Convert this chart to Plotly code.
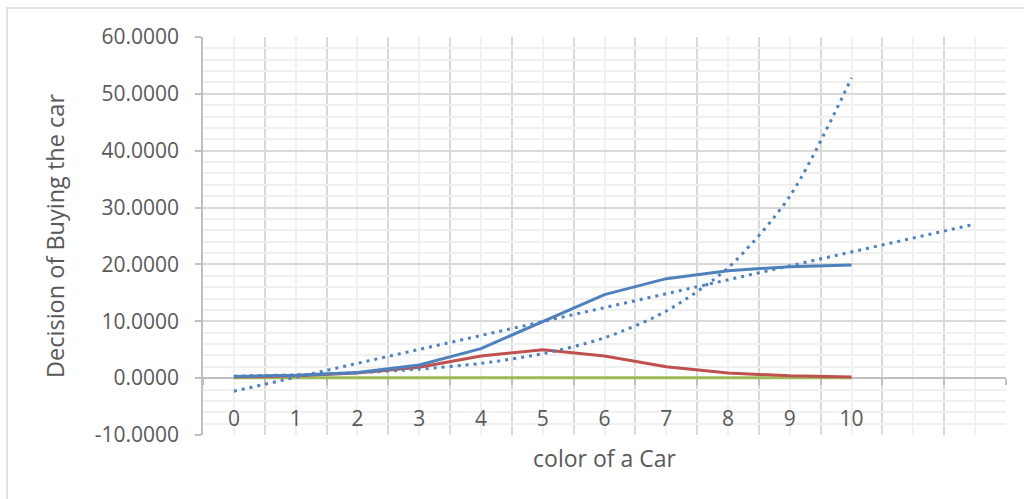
import plotly.graph_objects as go

# ---- data ----
x_vals = [0, 1, 2, 3, 4, 5, 6, 7, 8, 9, 10]
blue_vals = [0.3, 0.5, 1.0, 2.3, 5.2, 10.0, 14.7, 17.5, 18.9, 19.6, 19.9]
red_vals = [0.2, 0.4, 0.9, 1.9, 3.9, 5.0, 3.9, 2.0, 0.9, 0.4, 0.2]
green_vals = [0.05, 0.05, 0.05, 0.05, 0.05, 0.05, 0.05, 0.05, 0.05, 0.05, 0.05]
# trendlines
lin_trend_x = [0, 12]
lin_trend_y = [-2.3, 27.1]
exp_trend_x = [0, 1, 2, 3, 4, 5, 6, 7, 8, 9, 10]
exp_trend_y = [0.35, 0.58, 0.96, 1.58, 2.6, 4.3, 7.1, 11.8, 19.4, 32.0, 52.8]
x_tick_labels = ["0", "1", "2", "3", "4", "5", "6", "7", "8", "9", "10", "", ""]
y_tick_vals = [-10, 0, 10, 20, 30, 40, 50, 60]
y_tick_labels = ["-10.0000", "0.0000", "10.0000", "20.0000", "30.0000", "40.0000", "50.0000", "60.0000"]

BLUE = "#4F81BD"
RED = "#C0504D"
GREEN = "#9BBB59"
TXT = "#595959"
FONT = "Open Sans"

fig = go.Figure()
fig.add_trace(go.Scatter(x=x_vals, y=green_vals, mode="lines",
                         line=dict(color=GREEN, width=3), showlegend=False))
fig.add_trace(go.Scatter(x=x_vals, y=red_vals, mode="lines",
                         line=dict(color=RED, width=3), showlegend=False))
fig.add_trace(go.Scatter(x=x_vals, y=blue_vals, mode="lines",
                         line=dict(color=BLUE, width=3), showlegend=False))
fig.add_trace(go.Scatter(x=lin_trend_x, y=lin_trend_y, mode="lines",
                         line=dict(color=BLUE, width=3, dash="3px,5px"), showlegend=False))
fig.add_trace(go.Scatter(x=exp_trend_x, y=exp_trend_y, mode="lines",
                         line=dict(color=BLUE, width=3, dash="3px,5px", shape="spline", smoothing=0.8),
                         showlegend=False))

boundaries = [i - 0.5 for i in range(14)]

fig.update_layout(
    width=1024, height=499,
    margin=dict(l=203, r=18, t=37, b=64),
    paper_bgcolor="white", plot_bgcolor="white",
    font=dict(family=FONT, color=TXT, size=21),
    xaxis=dict(
        range=[-0.5, 12.5],
        tickvals=list(range(13)), ticktext=x_tick_labels,
        showgrid=True, gridcolor="#F0F0F0", gridwidth=1.5,
        ticks="", showline=True, linecolor="#BFBFBF", linewidth=1.5,
        anchor="free", position=1/7,
        zeroline=False, automargin=False, layer="below traces",
        ticklabelstandoff=22,
        tickfont=dict(size=21, color=TXT),
        minor=dict(tickvals=boundaries, showgrid=True, gridcolor="#D9D9D9", gridwidth=2,
                   ticks="outside", ticklen=6, tickcolor="#BFBFBF", tickwidth=1.5),
        title=dict(text="color of a Car", font=dict(size=23, color=TXT), standoff=19),
    ),
    yaxis=dict(
        range=[-10, 60],
        tickvals=y_tick_vals, ticktext=y_tick_labels,
        showgrid=True, gridcolor="#D9D9D9", gridwidth=2,
        ticks="outside", ticklen=6, tickcolor="#BFBFBF", tickwidth=1.5,
        showline=True, linecolor="#BFBFBF", linewidth=1.5,
        zeroline=False, automargin=False, layer="below traces",
        ticklabelstandoff=12,
        tickfont=dict(size=21, color=TXT),
        minor=dict(tick0=0, dtick=2, showgrid=True, gridcolor="#F0F0F0", gridwidth=1.5),
        title=dict(text="Decision of Buying the car", font=dict(size=23.5, color=TXT), standoff=23),
    ),
    shapes=[dict(type="rect", xref="paper", yref="paper",
                 x0=(7 - 203) / 803, x1=1.1, y0=-0.3, y1=(435 - 8) / 398,
                 line=dict(color="#D9D9D9", width=1.5), fillcolor="rgba(0,0,0,0)", layer="below")],
)

fig.write_html("out.html", config={"displayModeBar": False},
               post_script="document.body.style.margin='0';document.body.style.overflow='hidden';")
